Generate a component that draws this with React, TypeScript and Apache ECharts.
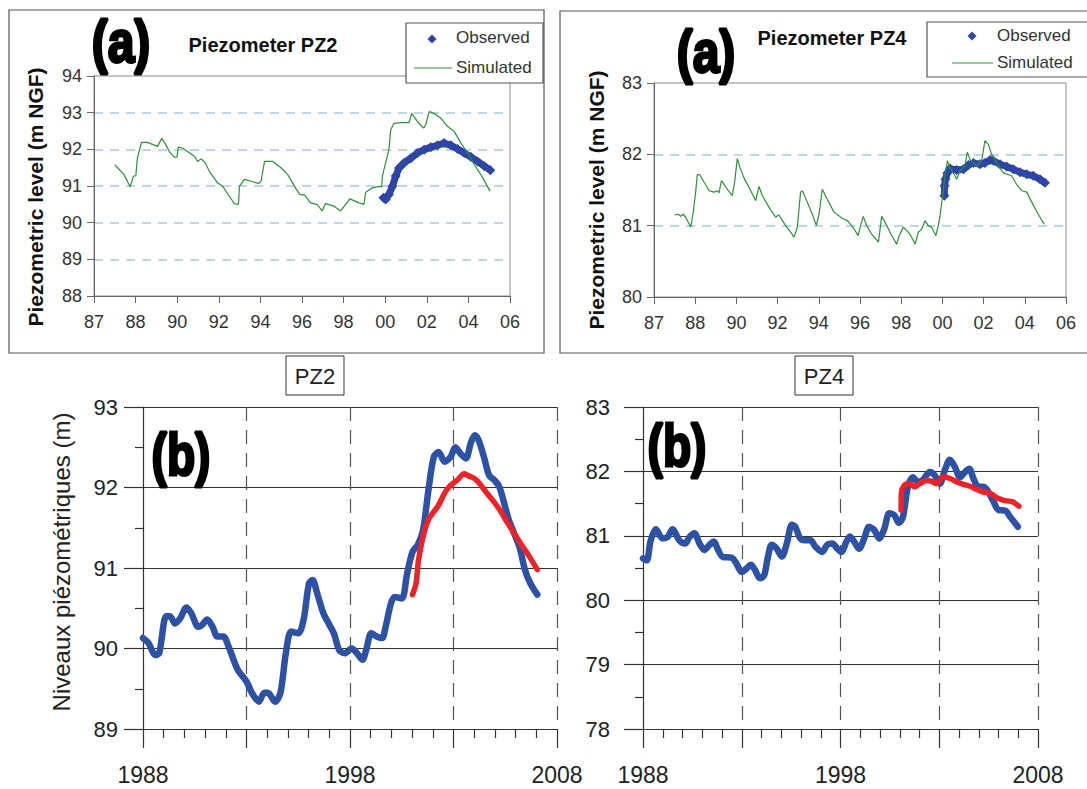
import React, { useEffect, useRef } from "react";
import * as echarts from "echarts";

const FONT = "'Liberation Sans', Arial, sans-serif";

// ---------- top panels (a): axis in years, ticks every 1.9 years from 1987 ----------
const topTickLabels = ["87", "88", "90", "92", "94", "96", "98", "00", "02", "04", "06"];

const pz2SimYears = [1987.95, 1988.37, 1988.65, 1988.8, 1988.91, 1988.98, 1989.06, 1989.17, 1989.44, 1989.9, 1989.98, 1990.1, 1990.24, 1990.44, 1990.66, 1990.79, 1990.85, 1991.05, 1991.27, 1991.58, 1991.73, 1991.89, 1992.07, 1992.27, 1992.65, 1992.88, 1993.18, 1993.41, 1993.6, 1993.64, 1993.87, 1994.18, 1994.51, 1994.63, 1994.79, 1995.17, 1995.55, 1995.85, 1996.16, 1996.39, 1996.62, 1996.89, 1997.19, 1997.42, 1997.57, 1997.96, 1998.26, 1998.69, 1999.1, 1999.33, 1999.41, 1999.71, 2000.02, 2000.14, 2000.17, 2000.32, 2000.47, 2000.55, 2000.7, 2001.01, 2001.39, 2001.51, 2001.77, 2002.05, 2002.15, 2002.31, 2002.54, 2002.84, 2003.15, 2003.45, 2003.76, 2004.06, 2004.37, 2004.67, 2005.09];
const pz2SimLevels = [91.58, 91.31, 90.98, 91.27, 91.28, 91.76, 91.94, 92.19, 92.19, 92.08, 92.17, 92.3, 92.17, 91.94, 91.79, 91.79, 92.06, 92.03, 91.94, 91.81, 91.67, 91.74, 91.64, 91.4, 91.08, 90.99, 90.72, 90.52, 90.5, 90.99, 91.18, 91.13, 91.07, 91.13, 91.67, 91.67, 91.49, 91.31, 90.99, 90.77, 90.75, 90.54, 90.5, 90.32, 90.52, 90.45, 90.32, 90.65, 90.54, 90.5, 90.83, 90.95, 90.99, 90.98, 91.27, 91.63, 91.99, 92.53, 92.71, 92.73, 92.73, 92.98, 92.76, 92.58, 92.67, 93.03, 92.98, 92.85, 92.62, 92.49, 92.17, 91.9, 91.58, 91.31, 90.86];

const pz2ObsYears = [2000.22, 2000.32, 2000.47, 2000.63, 2000.78, 2000.93, 2001.16, 2001.47, 2001.77, 2002.08, 2002.38, 2002.69, 2002.99, 2003.3, 2003.61, 2003.91, 2004.22, 2004.52, 2004.83, 2005.1];
const pz2ObsLevels = [90.68, 90.63, 90.77, 90.99, 91.27, 91.49, 91.63, 91.76, 91.9, 91.99, 92.06, 92.11, 92.17, 92.11, 92.01, 91.9, 91.79, 91.67, 91.54, 91.43];

const pz4SimYears = [1987.95, 1988.11, 1988.23, 1988.35, 1988.46, 1988.69, 1988.81, 1988.92, 1989.0, 1989.12, 1989.23, 1989.54, 1989.77, 1989.92, 1990.0, 1990.11, 1990.23, 1990.38, 1990.61, 1990.72, 1990.84, 1990.97, 1991.15, 1991.46, 1991.69, 1991.84, 1992.0, 1992.3, 1992.61, 1992.76, 1993.07, 1993.3, 1993.46, 1993.61, 1993.76, 1993.84, 1994.07, 1994.3, 1994.49, 1994.61, 1994.76, 1994.99, 1995.3, 1995.69, 1995.92, 1996.22, 1996.41, 1996.53, 1996.65, 1996.81, 1997.04, 1997.35, 1997.5, 1997.65, 1997.88, 1998.19, 1998.31, 1998.5, 1998.73, 1998.88, 1999.04, 1999.19, 1999.34, 1999.5, 1999.65, 1999.8, 2000.0, 2000.11, 2000.19, 2000.31, 2000.42, 2000.53, 2000.65, 2000.88, 2000.96, 2001.11, 2001.34, 2001.45, 2001.57, 2001.88, 2002.11, 2002.26, 2002.42, 2002.57, 2002.8, 2003.11, 2003.49, 2003.72, 2003.96, 2004.19, 2004.42, 2004.72, 2005.0];
const pz4SimLevels = [81.15, 81.16, 81.13, 81.16, 81.12, 80.98, 81.19, 81.47, 81.72, 81.71, 81.65, 81.49, 81.47, 81.49, 81.46, 81.63, 81.58, 81.51, 81.42, 81.61, 81.94, 81.81, 81.67, 81.49, 81.35, 81.55, 81.42, 81.26, 81.12, 81.15, 81.0, 80.91, 80.84, 80.98, 81.47, 81.49, 81.33, 81.16, 81.0, 81.16, 81.51, 81.37, 81.19, 81.1, 81.07, 80.96, 80.86, 81.0, 81.13, 81.0, 80.88, 80.77, 81.13, 81.05, 80.91, 80.74, 80.86, 80.98, 80.91, 80.84, 80.74, 80.91, 80.95, 81.07, 81.0, 80.98, 80.86, 81.0, 81.14, 81.42, 81.7, 81.91, 81.81, 81.7, 81.65, 81.77, 81.84, 82.03, 81.93, 81.83, 81.91, 82.19, 82.14, 82.0, 81.88, 81.74, 81.7, 81.58, 81.49, 81.47, 81.33, 81.16, 81.02];

const pz4ObsYears = [2000.39, 2000.4, 2000.44, 2000.53, 2000.65, 2000.96, 2001.27, 2001.5, 2001.73, 2002.03, 2002.26, 2002.5, 2002.65, 2002.96, 2003.26, 2003.57, 2003.88, 2004.19, 2004.49, 2004.8, 2005.03];
const pz4ObsLevels = [81.42, 81.56, 81.65, 81.74, 81.8, 81.78, 81.79, 81.85, 81.88, 81.86, 81.88, 81.92, 81.91, 81.86, 81.83, 81.79, 81.75, 81.72, 81.7, 81.65, 81.6];

// ---------- bottom panels (b) ----------
const bottomTickLabels = ["1988", "", "1998", "", "2008"];

const pz2ModelYears = [1988.0, 1988.26, 1988.6, 1988.78, 1989.12, 1989.3, 1989.55, 1989.81, 1990.1, 1990.33, 1990.67, 1990.84, 1991.1, 1991.36, 1991.59, 1991.88, 1992.14, 1992.57, 1993.0, 1993.26, 1993.6, 1993.86, 1994.03, 1994.38, 1994.64, 1994.9, 1995.16, 1995.5, 1995.76, 1996.02, 1996.19, 1996.41, 1996.71, 1996.97, 1997.22, 1997.48, 1997.74, 1998.09, 1998.34, 1998.6, 1998.78, 1999.03, 1999.29, 1999.55, 1999.72, 1999.98, 2000.16, 2000.5, 2000.76, 2001.02, 2001.28, 2001.53, 2001.79, 2002.05, 2002.28, 2002.57, 2002.86, 2003.09, 2003.34, 2003.6, 2003.83, 2004.03, 2004.21, 2004.47, 2004.72, 2004.98, 2005.21, 2005.41, 2005.67, 2005.93, 2006.19, 2006.45, 2006.71, 2007.05];
const pz2ModelLevels = [90.13, 90.07, 89.92, 89.94, 90.4, 90.4, 90.31, 90.38, 90.51, 90.44, 90.27, 90.29, 90.36, 90.27, 90.15, 90.15, 90.02, 89.74, 89.59, 89.45, 89.34, 89.45, 89.45, 89.34, 89.45, 89.94, 90.21, 90.19, 90.36, 90.81, 90.85, 90.69, 90.44, 90.31, 90.19, 89.98, 89.94, 90.0, 89.94, 89.86, 89.98, 90.19, 90.15, 90.13, 90.27, 90.56, 90.64, 90.62, 90.93, 91.2, 91.29, 91.47, 91.97, 92.38, 92.44, 92.32, 92.38, 92.5, 92.42, 92.36, 92.55, 92.65, 92.59, 92.38, 92.15, 92.09, 92.01, 91.84, 91.6, 91.43, 91.26, 90.98, 90.81, 90.67];

const pz2MeasYears = [2001.02, 2001.19, 2001.31, 2001.53, 2001.79, 2002.05, 2002.28, 2002.57, 2002.83, 2003.17, 2003.52, 2003.69, 2004.03, 2004.29, 2004.55, 2004.9, 2005.24, 2005.59, 2005.93, 2006.28, 2006.62, 2007.05];
const pz2MeasLevels = [90.67, 90.81, 91.1, 91.39, 91.6, 91.7, 91.78, 91.93, 92.02, 92.09, 92.17, 92.15, 92.11, 92.04, 91.95, 91.84, 91.72, 91.57, 91.43, 91.29, 91.16, 90.98];

const pz4ModelYears = [1988.0, 1988.19, 1988.39, 1988.65, 1988.99, 1989.24, 1989.5, 1989.84, 1990.13, 1990.35, 1990.6, 1990.86, 1991.11, 1991.37, 1991.59, 1991.8, 1992.05, 1992.48, 1992.73, 1992.99, 1993.24, 1993.46, 1993.67, 1993.92, 1994.14, 1994.31, 1994.52, 1994.77, 1995.03, 1995.28, 1995.54, 1995.71, 1995.96, 1996.22, 1996.48, 1996.73, 1997.07, 1997.33, 1997.58, 1997.84, 1998.06, 1998.26, 1998.47, 1998.69, 1998.94, 1999.2, 1999.45, 1999.71, 1999.96, 2000.22, 2000.47, 2000.73, 2000.95, 2001.16, 2001.41, 2001.67, 2001.92, 2002.18, 2002.52, 2002.77, 2003.03, 2003.28, 2003.54, 2003.79, 2004.05, 2004.3, 2004.52, 2004.73, 2004.98, 2005.24, 2005.49, 2005.75, 2006.0, 2006.35, 2006.6, 2006.98];
const pz4ModelLevels = [80.65, 80.62, 80.93, 81.1, 80.96, 80.98, 81.1, 80.93, 80.88, 80.98, 81.04, 80.88, 80.78, 80.86, 80.91, 80.78, 80.67, 80.66, 80.57, 80.44, 80.49, 80.55, 80.47, 80.34, 80.39, 80.65, 80.86, 80.8, 80.68, 80.88, 81.17, 81.14, 80.96, 80.93, 80.93, 80.83, 80.75, 80.86, 80.88, 80.8, 80.75, 80.88, 80.99, 80.91, 80.8, 80.96, 81.14, 81.09, 80.96, 81.11, 81.35, 81.32, 81.2, 81.29, 81.76, 81.91, 81.84, 81.87, 81.99, 81.94, 81.81, 82.02, 82.18, 82.07, 81.91, 81.99, 82.04, 81.89, 81.76, 81.76, 81.68, 81.53, 81.4, 81.39, 81.29, 81.14];

const pz4MeasYears = [2001.07, 2001.08, 2001.24, 2001.5, 2001.75, 2002.01, 2002.35, 2002.6, 2002.86, 2003.2, 2003.54, 2003.88, 2004.22, 2004.56, 2004.9, 2005.24, 2005.58, 2005.92, 2006.26, 2006.69, 2007.03];
const pz4MeasLevels = [81.4, 81.66, 81.79, 81.81, 81.76, 81.81, 81.86, 81.85, 81.81, 81.92, 81.89, 81.84, 81.8, 81.77, 81.72, 81.68, 81.66, 81.59, 81.55, 81.53, 81.46];

const TOP_START = 1987;
const BOTTOM_START = 1988;

const zip = (xs: number[], ys: number[], off: number) => xs.map((x, i) => [+(x - off).toFixed(3), ys[i]]);

const GREEN = "#2f8f3c";
const OBS_BLUE = "#2c45a6";
const MODEL_BLUE = "#2d52a5";
const RED = "#ee2227";

function topX(gridIndex: number) {
  return {
    type: "value", gridIndex, min: 0, max: 19, interval: 1.9,
    axisLine: { show: true, lineStyle: { color: "#666", width: 1 } },
    axisTick: { show: true, length: 7, lineStyle: { color: "#666" } },
    axisLabel: { fontSize: 18, fontFamily: FONT, color: "#333", margin: 17,
      formatter: (_v: number, i: number) => topTickLabels[i] ?? "" },
    splitLine: { show: false },
  };
}
function topY(gridIndex: number, min: number, max: number) {
  return {
    type: "value", gridIndex, min, max, interval: 1,
    axisLine: { show: true, lineStyle: { color: "#666", width: 1 } },
    axisTick: { show: true, length: 7, lineStyle: { color: "#666" } },
    axisLabel: { fontSize: 18, fontFamily: FONT, color: "#333", margin: 12 },
    splitLine: { show: true, showMinLine: false, showMaxLine: false,
      lineStyle: { color: "#a9c8ea", width: 1.5, type: [9, 7] } },
  };
}
function bottomX(gridIndex: number) {
  return {
    type: "value", gridIndex, min: 0, max: 20, interval: 5,
    axisLine: { show: true, lineStyle: { color: "#333", width: 1.2 } },
    axisTick: { show: true, length: 19, lineStyle: { color: "#333", width: 1.2 } },
    minorTick: { show: true, splitNumber: 5, length: 9, lineStyle: { color: "#333", width: 1.2 } },
    axisLabel: { fontSize: 23, fontFamily: FONT, color: "#222", margin: 34,
      formatter: (_v: number, i: number) => bottomTickLabels[i] ?? "" },
    splitLine: { show: true, showMinLine: false,
      lineStyle: { color: "#555", width: 1.2, type: [14, 9] } },
  };
}
function bottomY(gridIndex: number, min: number, max: number, margin: number) {
  return {
    type: "value", gridIndex, min, max, interval: 1,
    axisLine: { show: true, lineStyle: { color: "#333", width: 1.2 } },
    axisTick: { show: true, length: 19, lineStyle: { color: "#333", width: 1.2 } },
    minorTick: { show: true, splitNumber: 2, length: 8, lineStyle: { color: "#333", width: 1.2 } },
    axisLabel: { fontSize: 22, fontFamily: FONT, color: "#222", margin },
    splitLine: { show: true, lineStyle: { color: "#333", width: 1.2, type: "solid" } },
  };
}

const txt = (x: number, y: number, text: string, fontSize: number, extra: any = {}, styleExtra: any = {}) => ({
  type: "text", x, y, ...extra,
  style: { text, fontSize, fontFamily: FONT, fill: "#222", align: "center", verticalAlign: "middle", ...styleExtra },
});
const bigLabel = (x: number, y: number, text: string, sx: number) =>
  txt(x, y, text, 60, { scaleX: sx, z: 100 }, { fontWeight: "bold", fill: "#000", stroke: "#000", lineWidth: 3 });
const box = (x: number, y: number, w: number, h: number, color = "#555", lw = 1.2) => ({
  type: "rect", shape: { x, y, width: w, height: h }, style: { fill: "none", stroke: color, lineWidth: lw }, z: 50,
});
const diamond = (cx: number, cy: number, r: number) => ({
  type: "polygon", shape: { points: [[cx, cy - r], [cx + r, cy], [cx, cy + r], [cx - r, cy]] },
  style: { fill: OBS_BLUE }, z: 60,
});

export default function App() {
  const ref = useRef<HTMLDivElement>(null);
  useEffect(() => {
    if (!ref.current) return;
    const chart = echarts.init(ref.current, null, { renderer: "svg" });
    const option: any = {
      animation: false,
      backgroundColor: "#fff",
      grid: [
        { left: 94, top: 76, width: 416, height: 220, show: true, borderColor: "#8c8c8c", borderWidth: 1 },
        { left: 654, top: 83, width: 412, height: 214, show: true, borderColor: "#8c8c8c", borderWidth: 1 },
        { left: 143, top: 407, width: 414, height: 322 },
        { left: 643, top: 407, width: 395, height: 322 },
      ],
      xAxis: [topX(0), topX(1), bottomX(2), bottomX(3)],
      yAxis: [topY(0, 88, 94), topY(1, 80, 83), bottomY(2, 89, 93, 25), bottomY(3, 78, 83, 33)],
      series: [
        { name: "Observed", type: "line", xAxisIndex: 0, yAxisIndex: 0, data: zip(pz2ObsYears, pz2ObsLevels, TOP_START),
          symbol: "diamond", symbolSize: 10, showSymbol: true, itemStyle: { color: OBS_BLUE },
          lineStyle: { color: OBS_BLUE, width: 7 }, z: 2 },
        { name: "Simulated", type: "line", xAxisIndex: 0, yAxisIndex: 0, data: zip(pz2SimYears, pz2SimLevels, TOP_START),
          showSymbol: false, lineStyle: { color: GREEN, width: 1.2 }, z: 3 },
        { name: "Observed", type: "line", xAxisIndex: 1, yAxisIndex: 1, data: zip(pz4ObsYears, pz4ObsLevels, TOP_START),
          symbol: "diamond", symbolSize: 10, showSymbol: true, itemStyle: { color: OBS_BLUE },
          lineStyle: { color: OBS_BLUE, width: 7 }, z: 2 },
        { name: "Simulated", type: "line", xAxisIndex: 1, yAxisIndex: 1, data: zip(pz4SimYears, pz4SimLevels, TOP_START),
          showSymbol: false, lineStyle: { color: GREEN, width: 1.2 }, z: 3 },
        { type: "line", xAxisIndex: 2, yAxisIndex: 2, data: zip(pz2ModelYears, pz2ModelLevels, BOTTOM_START),
          showSymbol: false, smooth: 0.3, lineStyle: { color: MODEL_BLUE, width: 6.5, cap: "round", join: "round" }, z: 2 },
        { type: "line", xAxisIndex: 2, yAxisIndex: 2, data: zip(pz2MeasYears, pz2MeasLevels, BOTTOM_START),
          showSymbol: false, smooth: 0.3, lineStyle: { color: RED, width: 5.5, cap: "round", join: "round" }, z: 3 },
        { type: "line", xAxisIndex: 3, yAxisIndex: 3, data: zip(pz4ModelYears, pz4ModelLevels, BOTTOM_START),
          showSymbol: false, smooth: 0.3, lineStyle: { color: MODEL_BLUE, width: 6.5, cap: "round", join: "round" }, z: 2 },
        { type: "line", xAxisIndex: 3, yAxisIndex: 3, data: zip(pz4MeasYears, pz4MeasLevels, BOTTOM_START),
          showSymbol: false, smooth: 0.3, lineStyle: { color: RED, width: 5.5, cap: "round", join: "round" }, z: 3 },
      ],
      graphic: [
        // panel frames
        box(9, 10, 535, 343),
        box(560, 11, 560, 342),
        // legends
        { type: "rect", shape: { x: 406, y: 23, width: 137, height: 60 }, style: { fill: "#fff", stroke: "#555", lineWidth: 1.2 }, z: 55 },
        diamond(432, 39, 4.5),
        { type: "line", shape: { x1: 414, y1: 68, x2: 452, y2: 68 }, style: { stroke: GREEN, lineWidth: 1.2 }, z: 60 },
        txt(456, 37, "Observed", 17, { z: 60 }, { align: "left", fill: "#333" }),
        txt(456, 67, "Simulated", 17, { z: 60 }, { align: "left", fill: "#333" }),
        { type: "rect", shape: { x: 927, y: 22, width: 200, height: 55 }, style: { fill: "#fff", stroke: "#555", lineWidth: 1.2 }, z: 55 },
        diamond(972, 36, 4.5),
        { type: "line", shape: { x1: 952, y1: 63, x2: 993, y2: 63 }, style: { stroke: GREEN, lineWidth: 1.2 }, z: 60 },
        txt(997, 35, "Observed", 17, { z: 60 }, { align: "left", fill: "#333" }),
        txt(997, 62, "Simulated", 17, { z: 60 }, { align: "left", fill: "#333" }),
        // titles
        txt(263, 45, "Piezometer PZ2", 20, { z: 60 }, { fontWeight: "bold", fill: "#111" }),
        txt(832, 38, "Piezometer PZ4", 20, { z: 60 }, { fontWeight: "bold", fill: "#111" }),
        // y axis titles
        txt(35, 197, "Piezometric level (m NGF)", 21, { rotation: Math.PI / 2, z: 60 }, { fontWeight: "bold", fill: "#111" }),
        txt(596, 200, "Piezometric level (m NGF)", 21, { rotation: Math.PI / 2, z: 60 }, { fontWeight: "bold", fill: "#111" }),
        txt(61, 562, "Niveaux piézométriques (m)", 24, { rotation: Math.PI / 2, z: 60 }, { fill: "#222" }),
        // PZ boxes
        box(286, 356, 58, 39, "#333", 1),
        txt(315, 376, "PZ2", 22, { z: 60 }),
        box(795, 356, 58, 39, "#333", 1),
        txt(824, 376, "PZ4", 22, { z: 60 }),
        // panel letters
        bigLabel(121, 42, "(a)", 0.8),
        bigLabel(706, 52, "(a)", 0.8),
        bigLabel(181, 454, "(b)", 0.77),
        bigLabel(677, 445, "(b)", 0.77),
      ],
    };
    chart.setOption(option);
    return () => chart.dispose();
  }, []);
  return (
    <div
      ref={ref}
      style={{ position: "absolute", left: 0, top: 0, width: 1087, height: 789, background: "#fff" }}
    />
  );
}
